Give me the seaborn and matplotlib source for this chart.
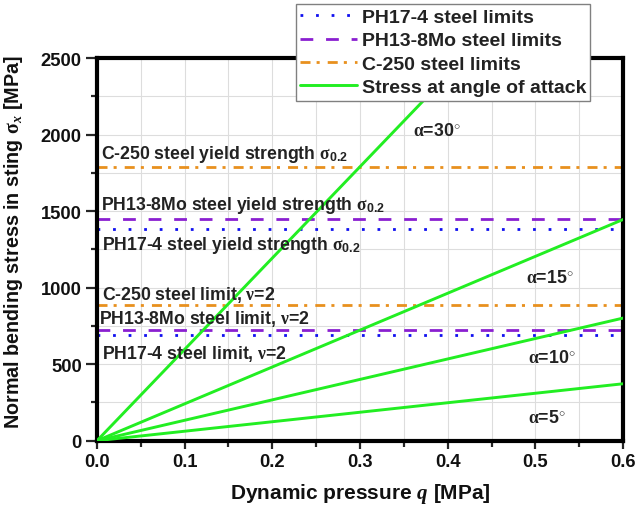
import numpy as np
import pandas as pd
import matplotlib
matplotlib.use("Agg")
import matplotlib.pyplot as plt
import seaborn as sns
from matplotlib.lines import Line2D

# ---- data ----
q_ends = [0.0, 0.6]                      # dynamic pressure endpoints [MPa]
angles = ["α=5°", "α=10°", "α=15°", "α=30°"]
stress_at_06 = [372, 801, 1445, 3580]    # stress at q=0.6 [MPa]
stress_at_0 = [0, 0, 0, 0]

materials = ["PH17-4", "PH13-8Mo", "C-250"]
yield_strength = [1385, 1450, 1785]      # sigma_0.2 [MPa]
limit_v2 = [688, 724, 888]               # limit with safety factor 2

xticks = [0.0, 0.1, 0.2, 0.3, 0.4, 0.5, 0.6]
yticks = [0, 500, 1000, 1500, 2000, 2500]

sns.set_style("ticks")
plt.rcParams["font.family"] = ["Liberation Sans", "DejaVu Sans"]
plt.rcParams["font.weight"] = "bold"
plt.rcParams["mathtext.fontset"] = "custom"
plt.rcParams["mathtext.rm"] = "Liberation Serif"
plt.rcParams["mathtext.it"] = "Liberation Serif:italic"
plt.rcParams["mathtext.bf"] = "Liberation Sans:bold"

fig = plt.figure(figsize=(6.36, 5.10), dpi=100)
ax = fig.add_axes([0.1525, 0.1339, 0.9796 - 0.1525, 0.8843 - 0.1339])

# green stress lines
rows = []
for a, s0, s1 in zip(angles, stress_at_0, stress_at_06):
    rows.append({"q": q_ends[0], "stress": s0, "angle": a})
    rows.append({"q": q_ends[1], "stress": s1, "angle": a})
df = pd.DataFrame(rows)
sns.lineplot(data=df, x="q", y="stress", units="angle", estimator=None,
             color="#22EE22", lw=2.1, ax=ax, legend=False, zorder=3)

colors = ["#1010F0", "#8A1FD0", "#E8901E"]
styles = [(0, (1.0, 4.6)), (0, (4.6, 4.6)), (0, (3.6, 2.2, 1.1, 2.9))]
for v, l, c, ls in zip(yield_strength, limit_v2, colors, styles):
    ax.axhline(v, color=c, lw=2.0, ls=ls, zorder=2)
    ax.axhline(l, color=c, lw=2.0, ls=ls, zorder=2)

handles = [
    Line2D([], [], color=colors[0], lw=2.0, ls=styles[0]),
    Line2D([], [], color=colors[1], lw=2.0, ls=styles[1]),
    Line2D([], [], color=colors[2], lw=2.0, ls=styles[2]),
    Line2D([], [], color="#22EE22", lw=2.1),
]
labels = ["PH17-4 steel limits", "PH13-8Mo steel limits", "C-250 steel limits",
          "Stress at angle of attack"]
leg = ax.legend(handles, labels, loc="upper left",
                bbox_to_anchor=(296 / 636, 1 - 5 / 510),
                bbox_transform=fig.transFigure, frameon=True, fancybox=False,
                edgecolor="#808080", framealpha=1, fontsize=14.0,
                handlelength=2.9, handletextpad=0.25, labelspacing=0.3,
                borderpad=0.22, borderaxespad=0)
leg.get_frame().set_linewidth(1.0)
leg.set_zorder(10)
for t in leg.get_texts():
    t.set_color("#222222")

# annotations
sig = r"$\mathrm{\sigma}_{\mathbf{0.2}}$"
nu = r"$\mathrm{\nu}$"
fs = 12.7
tc = "#222222"
ax.text(0.005, 1879, "C-250 steel yield strength " + sig, fontsize=fs, va="center", color=tc)
ax.text(0.005, 1546, "PH13-8Mo steel yield strength " + sig, fontsize=fs, va="center", color=tc)
ax.text(0.006, 1285, "PH17-4 steel yield strength " + sig, fontsize=fs, va="center", color=tc)
ax.text(0.006, 958, "C-250 steel limit, " + nu + "=2", fontsize=fs, va="center", color=tc)
ax.text(0.002, 800, "PH13-8Mo steel limit, " + nu + "=2", fontsize=fs, va="center", color=tc)
ax.text(0.006, 573, "PH17-4 steel limit, " + nu + "=2", fontsize=fs, va="center", color=tc)
alpha_pos = [(0.513, 153), (0.519, 545), (0.517, 1067), (0.3875, 2025)]
for a, (x, y) in zip(angles, alpha_pos):
    ax.text(x, y, r"$\mathrm{\alpha}$=" + a.split("=")[1].rstrip("°") + "$^{\\circ}$",
            fontsize=12.8, ha="center", va="center", color=tc)

ax.set_xlim(0, 0.6)
ax.set_ylim(0, 2500)
ax.set_xticks(xticks)
ax.set_xticklabels([f"{t:.1f}" for t in xticks])
ax.set_yticks(yticks)
ax.set_yticklabels([str(t) for t in yticks])
ax.set_xticks(np.arange(0.05, 0.6, 0.1), minor=True)
ax.set_yticks(np.arange(250, 2500, 500), minor=True)
ax.grid(True, which="both", color="#DDDDDD", lw=0.8, zorder=0)
ax.set_axisbelow(True)
ax.tick_params(axis="both", which="major", direction="out", width=1.6,
               labelsize=13.2, pad=3, top=False, right=False, labelcolor="#111111")
ax.tick_params(axis="x", which="major", length=6)
ax.tick_params(axis="y", which="major", length=8)
ax.tick_params(axis="both", which="minor", direction="out", length=4, width=1.6,
               top=False, right=False)
for sp in ax.spines.values():
    sp.set_linewidth(3.0)
    sp.set_color("black")
    sp.set_visible(True)

ax.set_xlabel(r"Dynamic pressure $q$ [MPa]", fontsize=15, fontweight="bold",
              labelpad=8, color="#111111")
ax.set_ylabel(r"Normal bending stress in sting $\mathrm{\sigma}_x$ [MPa]", fontsize=14.2,
              fontweight="bold", color="#111111")
ax.yaxis.set_label_coords(-0.137, 0.52)

fig.savefig("out.png", dpi=100)
